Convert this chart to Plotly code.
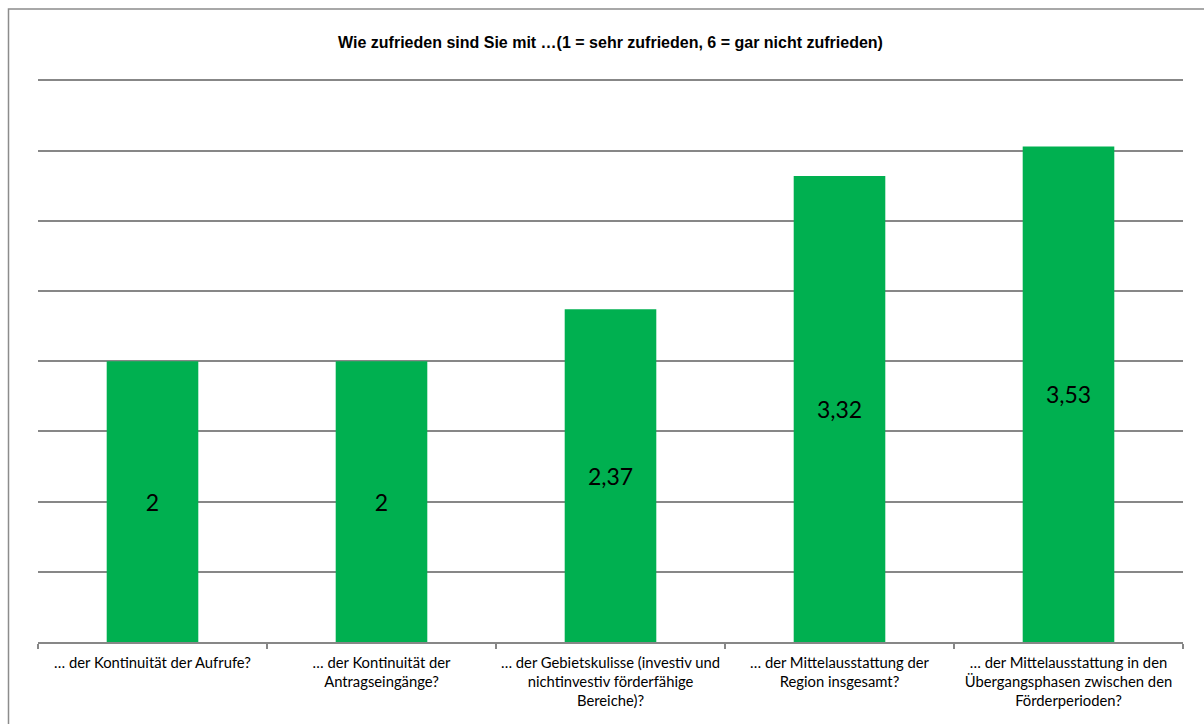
import plotly.graph_objects as go

categories = [
    "… der Kontinuität der Aufrufe?",
    "… der Kontinuität der<br>Antragseingänge?",
    "… der Gebietskulisse (investiv und<br>nichtinvestiv förderfähige<br>Bereiche)?",
    "… der Mittelausstattung der<br>Region insgesamt?",
    "… der Mittelausstattung in den<br>Übergangsphasen zwischen den<br>Förderperioden?",
]
values = [2, 2, 2.37, 3.32, 3.53]
labels = [("%g" % v).replace(".", ",") for v in values]

W, H = 1204, 724
ymax = 4.01
unit = 140.3
ml, mr, mb = 38, 21, 82
ph = ymax * unit
mt = H - mb - ph
pw = W - ml - mr

fig = go.Figure()
fig.add_trace(go.Bar(
    x=categories, y=values, text=labels,
    textposition="inside", insidetextanchor="middle",
    textfont=dict(family="Lato, Open Sans, sans-serif", size=23, color="#000000"),
    marker=dict(color="#00B050", line=dict(width=0)),
    width=0.4, cliponaxis=False,
))

fig.update_layout(
    width=W, height=H,
    margin=dict(l=ml, r=mr, t=mt, b=mb),
    paper_bgcolor="white", plot_bgcolor="white",
    showlegend=False,
    title=dict(
        text="<b>Wie zufrieden sind Sie mit …(1 = sehr zufrieden, 6 = gar nicht zufrieden)</b>",
        font=dict(family="Liberation Sans, Arial, sans-serif", size=16, color="#000000"),
        x=(ml + pw / 2) / W, xanchor="center", xref="container",
        y=1 - 42 / H, yanchor="middle", yref="container",
    ),
    yaxis=dict(range=[0, ymax], tick0=0, dtick=0.5, showticklabels=False, showgrid=True,
               gridcolor="#878787", gridwidth=1.5, zeroline=False, showline=False,
               fixedrange=True, automargin=False),
    xaxis=dict(showline=True, linecolor="#878787", linewidth=1.5,
               ticks="outside", tickson="boundaries", ticklen=5, tickcolor="#878787",
               tickwidth=1.5, ticklabelstandoff=6, tickangle=0, automargin=False,
               tickfont=dict(family="Lato, Open Sans, sans-serif", size=14.8, color="#000000"),
               showgrid=False),
)

fig.add_shape(type="rect", xref="paper", yref="paper",
              x0=(8.5 - ml) / pw, x1=(W + 20 - ml) / pw,
              y0=-(mb + 20) / ph, y1=1 + (mt - 9.5) / ph,
              line=dict(color="#8c8c8c", width=1.5), fillcolor="rgba(0,0,0,0)", layer="below")

fig.write_html("out.html")
